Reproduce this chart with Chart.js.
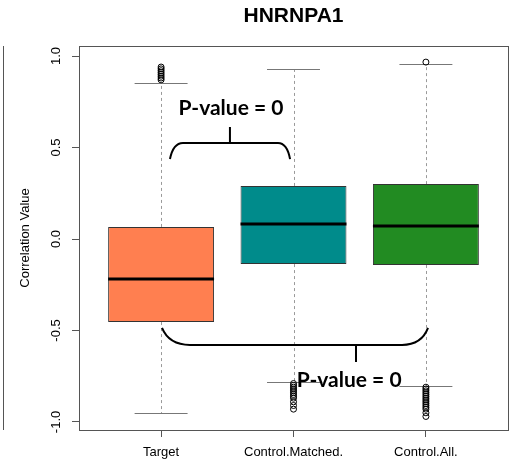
<!DOCTYPE html>
<html>
<head>
<meta charset="utf-8">
<script src="https://cdn.jsdelivr.net/npm/chart.js@4"></script>
<style>
  html, body { margin: 0; padding: 0; background: #fff; }
  #wrap { width: 520px; height: 468px; }
</style>
</head>
<body>
<div id="wrap"><canvas id="boxChart"></canvas></div>
<script>
// data
const categories = ['Target', 'Control.Matched.', 'Control.All.'];
const positions = [1, 2, 3];
const q1 = [-0.454, -0.137, -0.142];
const q3 = [0.066, 0.290, 0.300];
const medians = [-0.219, 0.082, 0.071];
const whiskerLow = [-0.951, -0.781, -0.803];
const whiskerHigh = [0.852, 0.929, 0.956];
const outliersTarget = [0.87, 0.88, 0.89, 0.90, 0.91, 0.92, 0.93, 0.94];
const outliersMatched = [-0.79, -0.80, -0.81, -0.82, -0.83, -0.84, -0.85, -0.86, -0.87, -0.89, -0.91, -0.93];
const outliersAll = [0.967, -0.81, -0.82, -0.83, -0.84, -0.85, -0.86, -0.87, -0.88, -0.89, -0.90, -0.91, -0.92, -0.93, -0.95, -0.97];
const yTicks = [-1.0, -0.5, 0.0, 0.5, 1.0];
const boxColors = ['#FF7F50', '#008B8B', '#228B22'];

const BOX_HALF = 0.4;   // boxwex 0.8
const CAP_HALF = 0.2;   // staple

// p-value braces, in data units
const braces = [
    { x0: 1.067, x1: 1.974, yEnd: 0.437, yBar: 0.525, xCurve0: 1.165, xCurve1: 1.883, xMid: 1.52, yTip: 0.612, textX: 1.528, textY: 0.716 },
    { x0: 1.007, x1: 3.016, yEnd: -0.486, yBar: -0.579, xCurve0: 1.218, xCurve1: 2.82, xMid: 2.472, yTip: -0.672, textX: 2.42, textY: -0.77 }
];

const toPts = (x, arr) => arr.map(v => ({ x: x, y: v }));

const boxPlugin = {
    id: 'boxPlugin',
    beforeDatasetsDraw(chart) {
        const { ctx, scales: { x, y } } = chart;
        ctx.save();
        ctx.lineWidth = 1;
        // whiskers
        positions.forEach((p, i) => {
            const px = Math.round(x.getPixelForValue(p)) + 0.5;
            ctx.strokeStyle = '#9a9a9a';
            ctx.setLineDash([3, 3]);
            ctx.beginPath();
            ctx.moveTo(px, y.getPixelForValue(q3[i]));
            ctx.lineTo(px, y.getPixelForValue(whiskerHigh[i]));
            ctx.moveTo(px, y.getPixelForValue(q1[i]));
            ctx.lineTo(px, y.getPixelForValue(whiskerLow[i]));
            ctx.stroke();
            ctx.setLineDash([]);
            ctx.strokeStyle = '#777';
            ctx.beginPath();
            [whiskerHigh[i], whiskerLow[i]].forEach(w => {
                const py = Math.round(y.getPixelForValue(w)) + 0.5;
                ctx.moveTo(x.getPixelForValue(p - CAP_HALF), py);
                ctx.lineTo(x.getPixelForValue(p + CAP_HALF), py);
            });
            ctx.stroke();
        });
        ctx.restore();
    },
    afterDatasetsDraw(chart) {
        const { ctx, chartArea: a, scales: { x, y } } = chart;
        ctx.save();
        // medians
        ctx.strokeStyle = '#000';
        ctx.lineWidth = 3;
        positions.forEach((p, i) => {
            const py = y.getPixelForValue(medians[i]);
            ctx.beginPath();
            ctx.moveTo(x.getPixelForValue(p - BOX_HALF), py);
            ctx.lineTo(x.getPixelForValue(p + BOX_HALF), py);
            ctx.stroke();
        });
        // braces
        ctx.lineWidth = 2;
        braces.forEach(b => {
            const xa = x.getPixelForValue(b.x0), xb = x.getPixelForValue(b.x1);
            const ye = y.getPixelForValue(b.yEnd), yb = y.getPixelForValue(b.yBar);
            const xc0 = x.getPixelForValue(b.xCurve0), xc1 = x.getPixelForValue(b.xCurve1);
            ctx.beginPath();
            ctx.moveTo(xa, ye);
            ctx.quadraticCurveTo(xa + (xc0 - xa) * 0.25, yb, xc0, yb);
            ctx.lineTo(xc1, yb);
            ctx.quadraticCurveTo(xb - (xb - xc1) * 0.25, yb, xb, ye);
            ctx.moveTo(x.getPixelForValue(b.xMid), yb);
            ctx.lineTo(x.getPixelForValue(b.xMid), y.getPixelForValue(b.yTip));
            ctx.stroke();
            ctx.fillStyle = '#000';
            ctx.font = 'bold 21px Lato';
            ctx.textAlign = 'center';
            ctx.textBaseline = 'middle';
            ctx.fillText('P-value = 0', x.getPixelForValue(b.textX), y.getPixelForValue(b.textY));
        });
        ctx.restore();
    },
    afterDraw(chart) {
        const { ctx, chartArea: a } = chart;
        ctx.save();
        ctx.strokeStyle = '#555';
        ctx.lineWidth = 1;
        ctx.strokeRect(Math.round(a.left) + 0.5, Math.round(a.top) + 0.5, Math.round(a.right - a.left), Math.round(a.bottom - a.top));
        // edge of the neighbouring panel
        ctx.beginPath();
        ctx.moveTo(3.5, a.top);
        ctx.lineTo(3.5, a.bottom);
        ctx.stroke();
        ctx.restore();
    }
};

const outlierStyle = {
    type: 'scatter',
    pointRadius: 3,
    pointStyle: 'circle',
    borderColor: '#000',
    backgroundColor: 'rgba(0,0,0,0)',
    borderWidth: 1
};

new Chart(document.getElementById('boxChart'), {
    type: 'bar',
    data: {
        datasets: [{
            label: 'box',
            data: positions.map((p, i) => ({ x: p, y: [q1[i], q3[i]] })),
            backgroundColor: boxColors,
            borderColor: '#333',
            borderWidth: 1,
            borderSkipped: false,
            categoryPercentage: 1,
            barPercentage: 0.8
        },
        { ...outlierStyle, label: 'out1', data: toPts(1, outliersTarget) },
        { ...outlierStyle, label: 'out2', data: toPts(2, outliersMatched) },
        { ...outlierStyle, label: 'out3', data: toPts(3, outliersAll) }]
    },
    options: {
        responsive: true,
        maintainAspectRatio: false,
        animation: false,
        layout: { padding: { left: 0, right: 12, top: 0, bottom: 0 } },
        plugins: {
            legend: { display: false },
            tooltip: { enabled: false },
            title: {
                display: true,
                fullSize: false,
                text: 'HNRNPA1',
                color: '#000',
                font: { family: 'Liberation Sans', size: 21, weight: 'bold', lineHeight: 1.2 },
                padding: { top: 4, bottom: 16.8 }
            }
        },
        scales: {
            x: {
                type: 'linear',
                min: 0.38,
                max: 3.62,
                offset: false,
                afterBuildTicks: s => { s.ticks = positions.map(v => ({ value: v })); },
                afterFit: s => { s.height = 38; },
                grid: { display: true, offset: false, drawOnChartArea: false, drawTicks: true, tickLength: 7, color: '#555' },
                border: { display: false },
                ticks: {
                    callback: v => categories[v - 1],
                    color: '#000',
                    padding: 8,
                    maxRotation: 0,
                    font: { family: 'Liberation Sans', size: 13 }
                }
            },
            y: {
                min: -1.044,
                max: 1.055,
                afterBuildTicks: s => { s.ticks = yTicks.map(v => ({ value: v })); },
                afterFit: s => { s.width = 79; },
                grid: { display: true, drawOnChartArea: false, drawTicks: true, tickLength: 7, color: '#555' },
                border: { display: false },
                title: {
                    display: true,
                    text: 'Correlation Value',
                    color: '#000',
                    font: { family: 'Liberation Sans', size: 13 },
                    padding: { top: 18, bottom: 0 }
                },
                ticks: {
                    callback: v => v.toFixed(1),
                    color: '#000',
                    padding: 4,
                    minRotation: 90,
                    maxRotation: 90,
                    crossAlign: 'center',
                    font: { family: 'Liberation Sans', size: 13 }
                }
            }
        }
    },
    plugins: [boxPlugin]
});
</script>
</body>
</html>
